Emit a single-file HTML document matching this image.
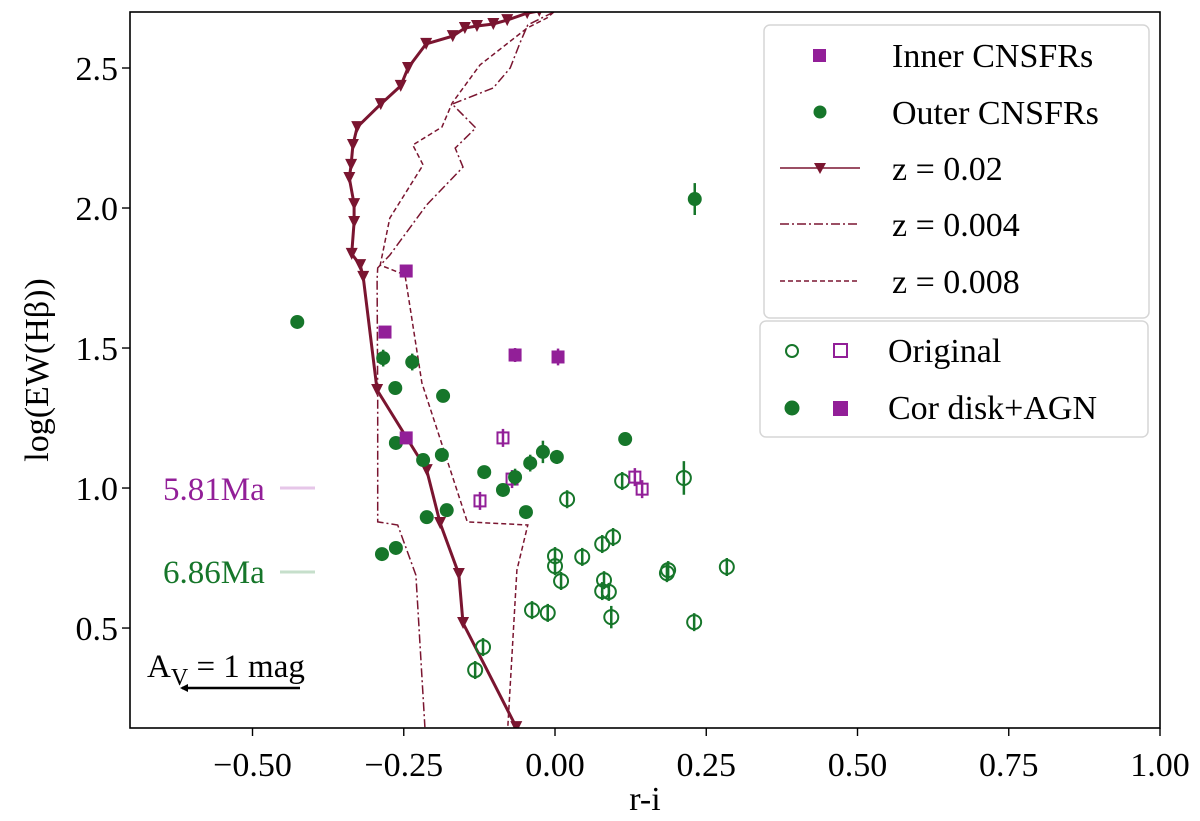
<!DOCTYPE html>
<html><head><meta charset="utf-8"><style>
html,body{margin:0;padding:0;background:#fff;}
svg{display:block;font-family:"Liberation Serif",serif;}
</style></head><body>
<svg id="chart" width="1200" height="821" viewBox="0 0 1200 821">
<rect x="0" y="0" width="1200" height="821" fill="#fff"/>
<g id="plot"></g>
<g id="axes"></g>
</svg>
<script>
// ---- data ----
const xTicks = [-0.50,-0.25,0.00,0.25,0.50,0.75,1.00];
const xTickLabels = ["\u22120.50","\u22120.25","0.00","0.25","0.50","0.75","1.00"];
const yTicks = [0.5,1.0,1.5,2.0,2.5];
const yTickLabels = ["0.5","1.0","1.5","2.0","2.5"];

const z02X = [-0.026,-0.046,-0.079,-0.102,-0.129,-0.149,-0.169,-0.213,-0.243,-0.255,-0.288,-0.327,-0.334,-0.337,-0.340,-0.332,-0.332,-0.336,-0.322,-0.317,-0.294,-0.212,-0.190,-0.159,-0.152,-0.064];
const z02Y = [2.704,2.696,2.671,2.657,2.650,2.643,2.614,2.586,2.500,2.436,2.371,2.289,2.225,2.154,2.107,2.014,1.950,1.836,1.796,1.754,1.350,1.064,0.875,0.693,0.518,0.146];
const z004X = [-0.002,-0.045,-0.058,-0.074,-0.102,-0.170,-0.131,-0.165,-0.152,-0.212,-0.273,-0.293,-0.294,-0.293,-0.293,-0.260,-0.230,-0.215];
const z004Y = [2.700,2.654,2.589,2.500,2.429,2.371,2.286,2.214,2.146,2.011,1.832,1.786,1.743,1.314,0.879,0.868,0.689,0.146];
const z008X = [-0.002,-0.013,-0.046,-0.124,-0.170,-0.187,-0.235,-0.218,-0.273,-0.289,-0.248,-0.220,-0.145,-0.045,-0.063,-0.078];
const z008Y = [2.700,2.679,2.643,2.511,2.375,2.289,2.225,2.154,1.964,1.796,1.761,1.375,0.879,0.868,0.707,0.146];

const innerX = [-0.246,-0.281,-0.066,0.005,-0.246];
const innerY = [1.775,1.557,1.475,1.468,1.179];
const innerErr = [0.02,0.02,0.025,0.03,0.02];
const innerOrigX = [-0.086,-0.071,-0.124,0.132,0.144];
const innerOrigY = [1.179,1.032,0.954,1.039,0.996];
const innerOrigErr = [0.015,0.02,0.015,0.03,0.03];

const outerX = [0.231,-0.426,-0.284,-0.236,-0.264,-0.185,-0.263,-0.218,-0.187,-0.117,-0.086,-0.048,-0.212,-0.179,-0.286,-0.263,0.116,-0.020,-0.041,0.003,-0.066];
const outerY = [2.032,1.593,1.464,1.450,1.357,1.329,1.161,1.100,1.118,1.057,0.993,0.914,0.896,0.921,0.764,0.786,1.175,1.129,1.089,1.111,1.039];
const outerErr = [0.057,0.015,0.03,0.03,0.01,0.01,0.01,0.01,0.02,0.01,0.01,0.02,0.01,0.01,0.01,0.01,0.015,0.04,0.03,0.025,0.03];
const outerOrigX = [0.111,0.213,0.020,0.096,0.078,0.045,0.000,0.000,0.010,0.081,0.078,0.089,0.187,0.185,0.284,-0.038,-0.012,0.093,0.230,-0.119,-0.132];
const outerOrigY = [1.025,1.036,0.960,0.825,0.800,0.754,0.757,0.721,0.668,0.671,0.632,0.629,0.707,0.696,0.718,0.564,0.554,0.539,0.521,0.432,0.350];
const outerOrigErr = [0.02,0.06,0.03,0.02,0.02,0.02,0.02,0.02,0.02,0.02,0.02,0.03,0.02,0.03,0.03,0.03,0.02,0.04,0.03,0.02,0.02];

// ---- axes ----
const L=130,R=1160,T=12,B=728;
const xMin=-0.7025,xMax=1.0,yMin=0.143,yMax=2.7;
function xs(v){return L+(v-xMin)/(xMax-xMin)*(R-L);}
function ys(v){return B-(v-yMin)/(yMax-yMin)*(B-T);}
const NS="http://www.w3.org/2000/svg";
const plot=document.getElementById('plot'), axes=document.getElementById('axes');
function mk(tag,attrs,parent){const e=document.createElementNS(NS,tag);for(const k in attrs)e.setAttribute(k,attrs[k]);parent.appendChild(e);return e;}

const TRACK="#7a1530", PURP="#921f98", GREEN="#16762a";

const defs=mk('defs',{},plot);
const cp=mk('clipPath',{id:'clip'},defs);
mk('rect',{x:L,y:T,width:R-L,height:B-T},cp);
const g=mk('g',{'clip-path':'url(#clip)'},plot);

function pathFrom(X,Y){return X.map((v,i)=>(i?'L':'M')+xs(v).toFixed(1)+','+ys(Y[i]).toFixed(1)).join(' ');}
let e;
e=mk('path',{d:pathFrom(z004X,z004Y),fill:'none',stroke:TRACK,'stroke-width':1.5,'stroke-dasharray':'9 3 2 3'},g);


e=mk('path',{d:pathFrom(z008X,z008Y),fill:'none',stroke:TRACK,'stroke-width':1.5,'stroke-dasharray':'5 3'},g);


e=mk('path',{d:pathFrom(z02X,z02Y),fill:'none',stroke:TRACK,'stroke-width':3},g);


z02X.forEach((v,i)=>{const x=xs(v),y=ys(z02Y[i]);
 const t=mk('path',{d:`M${x-6},${y-6} L${x+6},${y-6} L${x},${y+6} Z`,fill:TRACK},g);
 
 
});

function errbar(x,yv,err,col,w){const py=ys(yv);const y1=ys(yv+err),y2=ys(yv-err);mk('line',{x1:x,x2:x,y1:Math.min(y1,py-9),y2:Math.max(y2,py+9),stroke:col,'stroke-width':w},g);}

outerOrigX.forEach((v,i)=>{const x=xs(v),y=ys(outerOrigY[i]);
 errbar(x,outerOrigY[i],outerOrigErr[i],GREEN,2.5);
 const c=mk('circle',{cx:x,cy:y,r:7,fill:'none',stroke:GREEN,'stroke-width':2},g);
 
 
});
innerOrigX.forEach((v,i)=>{const x=xs(v),y=ys(innerOrigY[i]);
 errbar(x,innerOrigY[i],innerOrigErr[i],PURP,2.5);
 const r=mk('rect',{x:x-5.5,y:y-5.5,width:11,height:11,fill:'none',stroke:PURP,'stroke-width':2},g);
 
 
});
outerX.forEach((v,i)=>{const x=xs(v),y=ys(outerY[i]);
 mk('line',{x1:x,x2:x,y1:ys(outerY[i]+outerErr[i]),y2:ys(outerY[i]-outerErr[i]),stroke:GREEN,'stroke-width':2.5},g);
 const c=mk('circle',{cx:x,cy:y,r:7,fill:GREEN},g);
 
 
});
innerX.forEach((v,i)=>{const x=xs(v),y=ys(innerY[i]);
 mk('line',{x1:x,x2:x,y1:ys(innerY[i]+innerErr[i]),y2:ys(innerY[i]-innerErr[i]),stroke:PURP,'stroke-width':2.5},g);
 const r=mk('rect',{x:x-6.5,y:y-6.5,width:13,height:13,fill:PURP},g);
 
 
});

mk('rect',{x:L,y:T,width:R-L,height:B-T,fill:'none',stroke:'#000','stroke-width':1.6},axes);
xTicks.forEach((v,i)=>{const x=xs(v);
 mk('line',{x1:x,x2:x,y1:B,y2:B+8,stroke:'#000','stroke-width':1.4},axes);
 const t=mk('text',{x:x,y:B+48,'text-anchor':'middle','font-size':34},axes);t.textContent=xTickLabels[i];
 
 
});
yTicks.forEach((v,i)=>{const y=ys(v);
 mk('line',{x1:L-8,x2:L,y1:y,y2:y,stroke:'#000','stroke-width':1.4},axes);
 const t=mk('text',{x:L-12,y:y+12,'text-anchor':'end','font-size':34},axes);t.textContent=yTickLabels[i];
 
 
});
</script>
<svg style="position:absolute;left:0;top:0" width="1200" height="821">
<text x="645" y="810" text-anchor="middle" font-size="34" font-family="Liberation Serif,serif">r-i</text>
<text transform="translate(48,370) rotate(-90)" text-anchor="middle" font-size="34" font-family="Liberation Serif,serif">log(EW(Hβ))</text>
<text x="163" y="500" font-size="33" fill="#921f98" font-family="Liberation Serif,serif">5.81Ma</text>
<line x1="280" x2="315" y1="488" y2="488" stroke="#e6c6e8" stroke-width="3"/>
<text x="163" y="583" font-size="33" fill="#16762a" font-family="Liberation Serif,serif">6.86Ma</text>
<line x1="280" x2="315" y1="572" y2="572" stroke="#c6dfcb" stroke-width="3"/>
<text x="147" y="677" font-size="33" font-family="Liberation Serif,serif">A<tspan dy="8" font-size="24">V</tspan><tspan dy="-8"> = 1 mag</tspan></text>
<g>
<line x1="300" x2="182" y1="688" y2="688" stroke="#000" stroke-width="2.5"/>
<path d="M180,688 L188,684 L188,692 Z" fill="#000"/>
</g>
<g font-family="Liberation Serif,serif" font-size="34">
<rect x="764" y="25" width="385" height="293" rx="6" fill="#fff" stroke="#d6d6d6" stroke-width="1.5"/>
<rect x="813" y="49" width="13" height="13" fill="#921f98"/>
<text x="892" y="67">Inner CNSFRs</text>
<circle cx="820" cy="112" r="6.5" fill="#16762a"/>
<text x="892" y="124">Outer CNSFRs</text>
<line x1="780" x2="860" y1="168" y2="168" stroke="#7a1530" stroke-width="1.5"/>
<path d="M814,163 L826,163 L820,174 Z" fill="#7a1530"/>
<text x="892" y="180">z = 0.02</text>
<line x1="780" x2="860" y1="224" y2="224" stroke="#7a1530" stroke-width="1.5" stroke-dasharray="9 3 2 3"/>
<text x="892" y="236">z = 0.004</text>
<line x1="780" x2="860" y1="281" y2="281" stroke="#7a1530" stroke-width="1.5" stroke-dasharray="5 3"/>
<text x="892" y="293">z = 0.008</text>
</g>
<g font-family="Liberation Serif,serif" font-size="34">
<rect x="760" y="321" width="388" height="116" rx="6" fill="#fff" stroke="#d6d6d6" stroke-width="1.5"/>
<circle cx="792" cy="351" r="6" fill="none" stroke="#16762a" stroke-width="2"/>
<rect x="834" y="344" width="13" height="13" fill="none" stroke="#921f98" stroke-width="2"/>
<text x="888" y="362">Original</text>
<circle cx="792" cy="408" r="7.5" fill="#16762a"/>
<rect x="833" y="401" width="15" height="15" fill="#921f98"/>
<text x="888" y="419">Cor disk+AGN</text>
</g>
</svg>
</body></html>
